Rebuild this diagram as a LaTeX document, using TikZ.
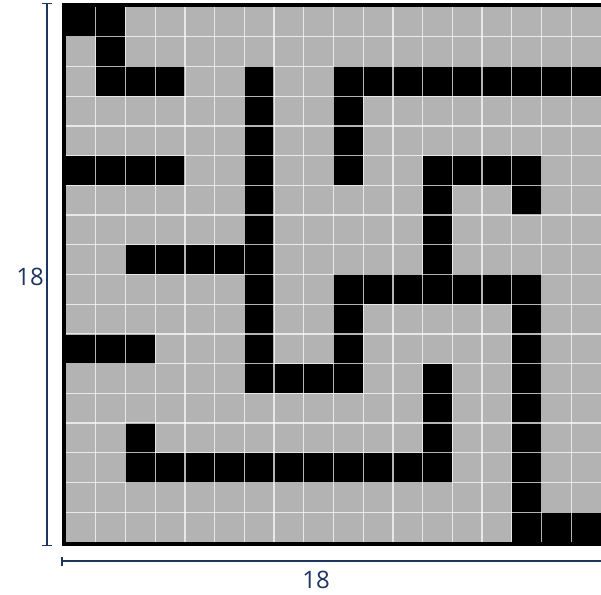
\documentclass[tikz,border=0pt]{standalone}
\usepackage{fontspec}
\setmainfont{Open Sans}
\definecolor{cellgray}{HTML}{B3B3B3}
\definecolor{navy}{HTML}{1F3561}
\begin{document}
\begin{tikzpicture}[x=1pt,y=-1pt,
  blackcell/.style={fill=black},
  gridline/.style={draw=white,draw opacity=0.7,line width=1.3pt},
  frameline/.style={draw=black,line width=4pt},
  dimline/.style={draw=navy,line width=1.5pt},
  dimlabel/.style={text=navy,font=\fontsize{24}{28}\selectfont,inner sep=0pt}]
\useasboundingbox (0,0) rectangle (601,594);
\clip (0,0) rectangle (601,594);
\def\cs{29.72}
\def\ox{66}
\def\oy{7}
% background cells
\fill[cellgray] (\ox,\oy) rectangle ({\ox+18*\cs},{\oy+18*\cs});
% black cells
\foreach \r/\cols in {0/{0,1},1/{1},2/{1,2,3,6,9,10,11,12,13,14,15,16,17},3/{6,9},4/{6,9},
  5/{0,1,2,3,6,9,12,13,14,15},6/{6,12,15},7/{6,12},8/{2,3,4,5,6,12},
  9/{6,9,10,11,12,13,14,15},10/{6,9,15},11/{0,1,2,6,9,15},12/{6,7,8,9,12,15},
  13/{12,15},14/{2,12,15},15/{2,3,4,5,6,7,8,9,10,11,12,15},16/{15},17/{15,16,17}}{
  \foreach \c in \cols {
    \fill[blackcell] ({\ox+\c*\cs},{\oy+\r*\cs}) rectangle ++(\cs,\cs);
  }
}
% grid lines
\foreach \i in {1,...,17}{
  \draw[gridline] ({\ox+\i*\cs},\oy) -- ({\ox+\i*\cs},{\oy+18*\cs});
  \draw[gridline] (\ox,{\oy+\i*\cs}) -- ({\ox+18*\cs},{\oy+\i*\cs});
}
% frame
\draw[frameline] ({\ox-2},{\oy-2}) rectangle ({\ox+18*\cs+2},{\oy+18*\cs+2});
% vertical dimension
\coordinate (vt) at (47,3.5);
\coordinate (vb) at (47,545.5);
\draw[dimline] (vt) -- (vb);
\draw[dimline] ([xshift=-5pt]vt) -- ([xshift=5pt]vt);
\draw[dimline] ([xshift=-5pt]vb) -- ([xshift=5pt]vb);
\node[dimlabel] (lv) at (30,277) {18};
% horizontal dimension
\coordinate (hl) at (62,561);
\coordinate (hr) at (603,561);
\draw[dimline] (hl) -- (hr);
\draw[dimline] ([yshift=-4.5pt]hl) -- ([yshift=4.5pt]hl);
\node[dimlabel] (lh) at (316,580) {18};
\end{tikzpicture}
\end{document}
